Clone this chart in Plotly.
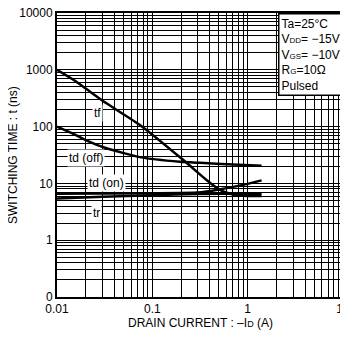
import math
import plotly.graph_objects as go

# Data
tf_x = [0.01, 0.015, 0.033, 0.074, 0.21, 0.37, 0.51, 0.7, 1.0, 1.4]
tf_y = [1000, 660, 257, 107, 26, 11.5, 7.7, 6.4, 6.0, 6.0]

tdoff_x = [0.01, 0.015, 0.02, 0.033, 0.074, 0.195, 0.316, 0.7, 1.4]
tdoff_y = [100, 74, 58, 41.5, 29, 24, 23, 21.5, 20.4]

tdon_x = [0.01, 0.1, 0.3, 0.5, 1.0, 1.4]
tdon_y = [6.6, 6.7, 6.9, 7.8, 9.8, 11.3]

tr_x = [0.01, 0.03, 0.1, 0.3, 1.0, 1.4]
tr_y = [5.4, 5.8, 6.2, 6.5, 6.6, 6.6]

x_ticks = [0.01, 0.1, 1, 10]
x_ticktext = ["0.01", "0.1", "1", "10"]
y_ticks = [0.1, 1, 10, 100, 1000, 10000]
y_ticktext = ["0", "1", "10", "100", "1000", "10000"]

curve_labels = ["tf", "td (off)", "td (on)", "tr"]
label_x = [0.0265, 0.02, 0.0333, 0.0261]
label_y = [171, 27.7, 10, 3.05]

x_title = "DRAIN CURRENT : \u2013I<span style='font-size:9px'>D</span> (A)"
y_title = "SWITCHING TIME : t (ns)"

FONT = "Liberation Sans, Arial, sans-serif"

fig = go.Figure()
for xs, ys in [(tf_x, tf_y), (tdoff_x, tdoff_y), (tdon_x, tdon_y), (tr_x, tr_y)]:
    fig.add_trace(go.Scatter(x=xs, y=ys, mode="lines",
                             line=dict(color="black", width=2.5, shape="spline", smoothing=0.5),
                             showlegend=False, hoverinfo="skip"))

def minor_vals(lo, hi):
    vals = []
    for e in range(lo, hi):
        for k in range(2, 10):
            vals.append(k * 10 ** e)
    return vals

fig.update_xaxes(type="log", range=[-2, 1], tickvals=x_ticks, ticktext=x_ticktext,
                 showgrid=True, gridcolor="black", gridwidth=1,
                 minor=dict(tickvals=minor_vals(-2, 1), showgrid=True, gridcolor="black", gridwidth=1, ticks=""),
                 showline=True, linecolor="black", linewidth=2, mirror=True, ticks="",
                 ticklabelstandoff=0, automargin=False, ticklabeloverflow="allow",
                 tickfont=dict(family=FONT, size=12, color="black"),
                 zeroline=False)
fig.update_yaxes(type="log", range=[-1, 4], tickvals=y_ticks, ticktext=y_ticktext,
                 showgrid=True, gridcolor="black", gridwidth=1,
                 minor=dict(tickvals=minor_vals(-1, 4), showgrid=True, gridcolor="black", gridwidth=1, ticks=""),
                 showline=True, linecolor="black", linewidth=2, mirror=True, ticks="",
                 automargin=False, ticklabeloverflow="allow",
                 tickfont=dict(family=FONT, size=12, color="black"),
                 zeroline=False)

# axis titles
fig.add_annotation(x=0.5, y=0, xref="paper", yref="paper", xanchor="center", yanchor="middle",
                   yshift=-26, text=x_title, showarrow=False,
                   font=dict(family=FONT, size=12, color="black"))
fig.add_annotation(x=0, y=0.5, xref="paper", yref="paper", xanchor="center", yanchor="middle",
                   xshift=-44, textangle=-90, text=y_title, showarrow=False,
                   font=dict(family=FONT, size=12, color="black"))

lab_font = dict(family=FONT, size=12, color="black")
for txt, xv, yv in zip(curve_labels, label_x, label_y):
    fig.add_annotation(x=math.log10(xv), y=math.log10(yv), xref="x", yref="y", text=txt,
                       showarrow=False, xanchor="center", yanchor="middle", font=lab_font,
                       bgcolor="white", borderpad=1)

sub = "<span style='font-size:8px'>%s</span>"
box_text = ("Ta=25\u00b0C<br>V" + sub % "DD" + "= \u221215V<br>V" + sub % "GS" +
            "= \u221210V<br>R" + sub % "G" + "=10\u03a9<br>Pulsed")
fig.add_annotation(x=1, y=1, xref="paper", yref="paper", xanchor="right", yanchor="top",
                   text=box_text, showarrow=False, align="left",
                   font=dict(family=FONT, size=12, color="black"),
                   bgcolor="white", bordercolor="black", borderwidth=1.5, borderpad=2)

# page body adds an 8px offset, so the figure is sized to fit the window
fig.update_layout(width=340, height=333, margin=dict(l=49, r=5, t=5, b=44),
                  paper_bgcolor="white", plot_bgcolor="white",
                  font=dict(family=FONT, size=12, color="black"))

fig.write_html("out.html")
